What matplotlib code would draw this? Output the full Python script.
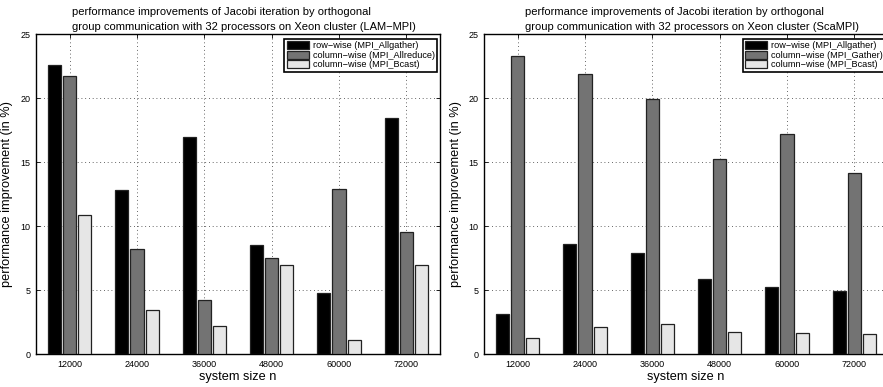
import matplotlib
matplotlib.use("Agg")
import matplotlib.pyplot as plt
import numpy as np

plt.rcParams['font.family'] = ['Liberation Sans', 'DejaVu Sans']

sizes = [12000, 24000, 36000, 48000, 60000, 72000]
size_labels = ['12000', '24000', '36000', '48000', '60000', '72000']

# LAM-MPI
lam_row = [22.55, 12.85, 16.95, 8.5, 4.78, 18.45]
lam_allreduce = [21.7, 8.2, 4.2, 7.48, 12.92, 9.5]
lam_bcast = [10.84, 3.47, 2.17, 6.92, 1.13, 6.92]

# ScaMPI
sca_row = [3.13, 8.57, 7.86, 5.89, 5.26, 4.92]
sca_gather = [23.3, 21.86, 19.95, 15.22, 17.18, 14.16]
sca_bcast = [1.22, 2.14, 2.32, 1.69, 1.61, 1.54]

title_l = ("performance improvements of Jacobi iteration by orthogonal\n"
           "group communication with 32 processors on Xeon cluster (LAM\u2212MPI)")
title_r = ("performance improvements of Jacobi iteration by orthogonal\n"
           "group communication with 32 processors on Xeon cluster (ScaMPI)")

labels_l = ['row\u2212wise (MPI_Allgather)', 'column\u2212wise (MPI_Allreduce)', 'column\u2212wise (MPI_Bcast)']
labels_r = ['row\u2212wise (MPI_Allgather)', 'column\u2212wise (MPI_Gather)', 'column\u2212wise (MPI_Bcast)']

colors = ['#000000', '#737373', '#e6e6e6']

fig = plt.figure(figsize=(8.83, 3.87), dpi=100)
ax1 = fig.add_axes([36/883, 1-354/387, 404/883, 320/387])
ax2 = fig.add_axes([484/883, 1-354/387, 404/883, 320/387])


def draw(ax, series, labels, title):
    x = np.array(sizes)
    off = 2700
    w = 2350
    for i, (vals, c, lab) in enumerate(zip(series, colors, labels)):
        ax.bar(x + (i - 1) * off, vals, width=w, color=c, edgecolor='#222222',
               linewidth=0.9, label=lab, zorder=3)
    ax.set_xlim(6000, 78000)
    ax.set_ylim(0, 25)
    ax.set_xticks(sizes)
    ax.set_xticklabels(size_labels)
    ax.set_yticks([0, 5, 10, 15, 20, 25])
    ax.tick_params(direction='in', labelsize=6.5, length=3, width=0.6,
                   top=True, right=True, pad=4)
    ax.grid(True, linestyle=(0, (1, 3.5)), color='#333333', linewidth=0.6, zorder=0)
    for s in ax.spines.values():
        s.set_linewidth(1.0)
    ax.set_xlabel('system size n', fontsize=9.2, labelpad=2)
    ax.set_ylabel('performance improvement (in %)', fontsize=9.2, labelpad=5)
    ax.set_title(title, fontsize=8, x=0.514, multialignment='left', pad=3,
                 linespacing=1.55)
    leg = ax.legend(loc='upper right', bbox_to_anchor=(0.993, 0.985), fontsize=6.6,
                    fancybox=False, framealpha=1, edgecolor='black',
                    borderpad=0.25, labelspacing=0.05, handlelength=2.4,
                    handleheight=0.95, handletextpad=0.45, borderaxespad=0)
    leg.get_frame().set_linewidth(1.2)
    leg.set_zorder(5)


draw(ax1, [lam_row, lam_allreduce, lam_bcast], labels_l, title_l)
draw(ax2, [sca_row, sca_gather, sca_bcast], labels_r, title_r)

fig.savefig('out.png', dpi=100)
